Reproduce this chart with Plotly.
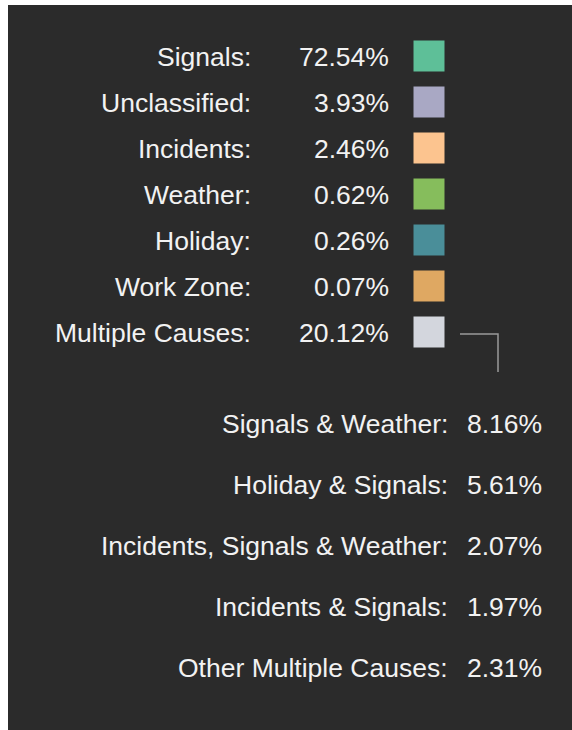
import plotly.graph_objects as go

# top breakdown: single causes
causes = ["Signals", "Unclassified", "Incidents", "Weather", "Holiday", "Work Zone", "Multiple Causes"]
shares = [72.54, 3.93, 2.46, 0.62, 0.26, 0.07, 20.12]
swatch_colors = ["#5ebf98", "#a9a8c4", "#fcc48f", "#86bd5c", "#4a8e99", "#dfa862", "#d3d6dd"]

# bottom breakdown: what "Multiple Causes" is made of
combo_causes = ["Signals & Weather", "Holiday & Signals", "Incidents, Signals & Weather",
                "Incidents & Signals", "Other Multiple Causes"]
combo_shares = [8.16, 5.61, 2.07, 1.97, 2.31]

BG = "#2b2b2b"
TXT = "#f2f2f2"
FONT = "Liberation Sans, Arial, sans-serif"
FS = 26.5

W, H = 572, 730
top_y0, top_step = 57, 46.0
bot_y0, bot_step = 423.5, 61.2

top_rows = [top_y0 + i * top_step for i in range(len(causes))]
bot_rows = [bot_y0 + i * bot_step for i in range(len(combo_causes))]

fig = go.Figure()

fig.add_trace(go.Scatter(
    x=[429] * len(causes),
    y=[y - 1 for y in top_rows],
    mode="markers",
    marker=dict(symbol="square", size=31, color=swatch_colors, line=dict(width=0)),
    hoverinfo="skip",
    showlegend=False,
))

# connector from the Multiple Causes swatch down to its breakdown
fig.add_trace(go.Scatter(
    x=[460, 498, 498],
    y=[top_rows[-1] + 1, top_rows[-1] + 1, top_rows[-1] + 39],
    mode="lines",
    line=dict(color="#9a9a9a", width=1.5),
    hoverinfo="skip",
    showlegend=False,
))

annotations = []
for name, val, y in zip(causes, shares, top_rows):
    annotations.append(dict(x=253, y=y, text=f"{name}:", xanchor="right", yanchor="middle",
                            showarrow=False, font=dict(size=FS, color=TXT, family=FONT)))
    annotations.append(dict(x=390.5, y=y, text=f"{val:.2f}%", xanchor="right", yanchor="middle",
                            showarrow=False, font=dict(size=FS, color=TXT, family=FONT)))
for name, val, y in zip(combo_causes, combo_shares, bot_rows):
    annotations.append(dict(x=450, y=y, text=f"{name}:", xanchor="right", yanchor="middle",
                            showarrow=False, font=dict(size=FS, color=TXT, family=FONT)))
    annotations.append(dict(x=544, y=y, text=f"{val:.2f}%", xanchor="right", yanchor="middle",
                            showarrow=False, font=dict(size=FS, color=TXT, family=FONT)))

fig.update_layout(
    width=W, height=H,
    margin=dict(l=8, r=0, t=5, b=0),
    paper_bgcolor="white",
    plot_bgcolor=BG,
    annotations=annotations,
    xaxis=dict(range=[8, W], visible=False, fixedrange=True),
    yaxis=dict(range=[H, 5], visible=False, fixedrange=True),
)

# drop the page's default body margin so the figure sits at the window origin
fig.write_html("out.html", config={"displayModeBar": False},
               post_script="document.body.style.margin='0';document.body.style.overflow='hidden';")
